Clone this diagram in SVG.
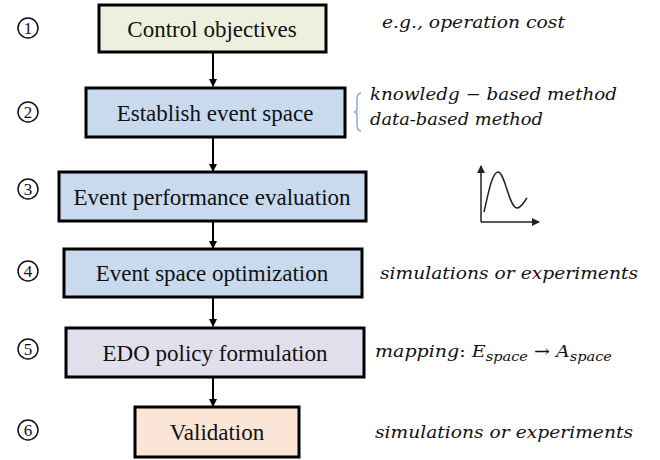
<svg xmlns="http://www.w3.org/2000/svg" width="660" height="460" viewBox="0 0 660 460">
<defs>
<marker id="ah" markerWidth="8" markerHeight="8" refX="7" refY="4" orient="auto" markerUnits="userSpaceOnUse">
<path d="M0,0 L8,4 L0,8 Z" fill="#000"/>
</marker>
<marker id="ah2" markerWidth="8" markerHeight="8" refX="7" refY="4" orient="auto" markerUnits="userSpaceOnUse">
<path d="M0,0 L8,4 L0,8 Z" fill="#222"/>
</marker>
<style>
.box{stroke:#000;stroke-width:3}
.lbl{font-family:"Liberation Serif","Times New Roman",serif;font-size:23px;fill:#111;text-anchor:middle;dominant-baseline:central}
.circ{fill:none;stroke:#111;stroke-width:1.5}
.num{font-family:"Liberation Serif","Times New Roman",serif;font-size:17px;fill:#111;text-anchor:middle;dominant-baseline:central}
.note{font-family:"DejaVu Serif",serif;font-style:italic;font-size:17px;fill:#111}
.conn{stroke:#000;stroke-width:2;fill:none;marker-end:url(#ah)}
</style>
</defs>
<rect width="660" height="460" fill="#fff"/>
<g id="connectors">
<line class="conn" x1="213" y1="53" x2="213" y2="86"/>
<line class="conn" x1="213" y1="138" x2="213" y2="171"/>
<line class="conn" x1="213" y1="222" x2="213" y2="248"/>
<line class="conn" x1="213" y1="298" x2="213" y2="326"/>
<line class="conn" x1="213" y1="378" x2="213" y2="406"/>
</g>
<g id="n1"><rect class="box" x="99" y="5" width="227" height="47" fill="#EEF0DE"/><text class="lbl" x="212" y="29">Control objectives</text></g>
<g id="n2"><rect class="box" x="86" y="88" width="259" height="49" fill="#C9DAEE"/><text class="lbl" x="215" y="113">Establish event space</text></g>
<g id="n3"><rect class="box" x="59" y="172" width="307" height="49" fill="#C9DAEE"/><text class="lbl" x="212" y="197">Event performance evaluation</text></g>
<g id="n4"><rect class="box" x="64" y="249" width="298" height="48" fill="#C9DAEE"/><text class="lbl" x="212" y="273">Event space optimization</text></g>
<g id="n5"><rect class="box" x="66" y="328" width="298" height="49" fill="#E2DFEC"/><text class="lbl" x="215" y="353">EDO policy formulation</text></g>
<g id="n6"><rect class="box" x="135" y="407" width="164" height="50" fill="#FBE5D6"/><text class="lbl" x="217" y="432">Validation</text></g>
<g id="numbers">
<circle class="circ" cx="28" cy="28" r="10"/><text class="num" x="28" y="28">1</text>
<circle class="circ" cx="28" cy="112" r="10"/><text class="num" x="28" y="112">2</text>
<circle class="circ" cx="28" cy="189" r="10"/><text class="num" x="28" y="189">3</text>
<circle class="circ" cx="28" cy="271" r="10"/><text class="num" x="28" y="271">4</text>
<circle class="circ" cx="28" cy="349" r="10"/><text class="num" x="28" y="349">5</text>
<circle class="circ" cx="28" cy="430" r="10"/><text class="num" x="28" y="430">6</text>
</g>
<g id="notes">
<text class="note" x="382" y="28" textLength="183" lengthAdjust="spacingAndGlyphs">e.g., operation cost</text>
<path d="M361,93 Q357,93 357,100 L357,109 Q357,112 354,112 Q357,112 357,115 L357,124 Q357,131 361,131" fill="none" stroke="#8FAADC" stroke-width="1.5"/>
<text class="note" x="370" y="100" textLength="247" lengthAdjust="spacingAndGlyphs">knowledg − based method</text>
<text class="note" x="370" y="125" textLength="173" lengthAdjust="spacingAndGlyphs">data-based method</text>
<text class="note" x="380" y="279" textLength="258" lengthAdjust="spacingAndGlyphs">simulations or experiments</text>
<text class="note" x="375" y="357" font-size="19" textLength="237" lengthAdjust="spacingAndGlyphs">mapping<tspan font-style="normal">: </tspan>E<tspan font-size="13" dy="4">space</tspan><tspan font-style="normal" dy="-4"> → </tspan>A<tspan font-size="13" dy="4">space</tspan></text>
<text class="note" x="375" y="438" textLength="258" lengthAdjust="spacingAndGlyphs">simulations or experiments</text>
</g>
<g id="chart">
<line x1="481" y1="222" x2="481" y2="166" stroke="#222" stroke-width="1.5" marker-end="url(#ah2)"/>
<line x1="481" y1="222" x2="539" y2="222" stroke="#222" stroke-width="1.5" marker-end="url(#ah2)"/>
<path d="M484,212 C488,195 492,172 498,172 C505,172 509,208 517,208 C521,208 524,202 527,198" fill="none" stroke="#222" stroke-width="1.5"/>
</g>
</svg>
